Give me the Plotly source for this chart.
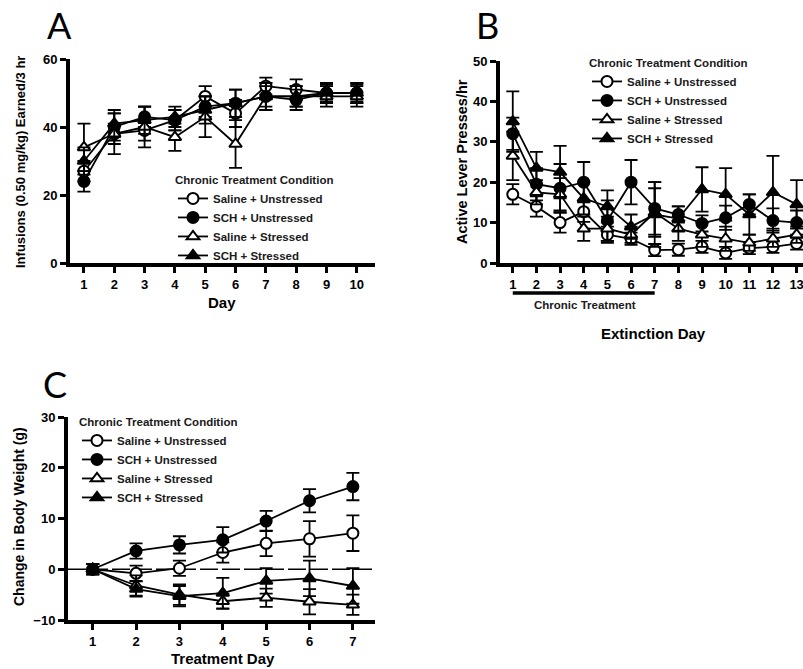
import plotly.graph_objects as go

# ---------------- data ----------------
series_names = ["Saline + Unstressed", "SCH + Unstressed", "Saline + Stressed", "SCH + Stressed"]

# Panel A: infusions earned per 3 hr
days_a = [1, 2, 3, 4, 5, 6, 7, 8, 9, 10]
a_sal_un = [27, 38, 39, 42, 49, 44, 52, 51, 50, 50]
a_sch_un = [24, 40, 43, 42, 46, 47, 49, 48, 50, 50]
a_sal_st = [34, 38, 40, 37, 43, 35, 49, 49, 49, 49]
a_sch_st = [30, 41, 42, 43, 45, 47, 49, 49, 50, 50]
a_err_sal_un = [3, 3, 3, 3, 3, 4, 2.5, 3, 2.5, 2.5]
a_err_sch_un = [3, 4, 3, 3, 3, 4, 3, 3, 3, 3]
a_err_sal_st = [7, 6, 6, 4, 6, 7, 4, 3, 3, 3]
a_err_sch_st = [4, 4, 4, 3, 4, 4, 4, 3, 3, 3]

# Panel B: active lever presses/hr during extinction
days_b = [1, 2, 3, 4, 5, 6, 7, 8, 9, 10, 11, 12, 13]
b_sal_un = [17, 14, 10, 12.7, 7, 6, 3.2, 3.3, 4, 2.5, 3.7, 4, 4.8]
b_sch_un = [32, 19.5, 18.5, 20, 10.5, 20, 13.5, 12, 9.8, 11.2, 14.5, 10.5, 10]
b_sal_st = [26.5, 17.5, 17, 8.5, 8.5, 7, 12.5, 8.5, 7, 6, 5, 6, 7]
b_sch_st = [35, 23.5, 22.5, 16, 14, 9, 12, 11, 18.2, 17, 12, 17.5, 14.5]
b_err_sal_un = [2.5, 2.5, 2.5, 2.5, 2, 1.5, 1.5, 1.5, 1.5, 1.5, 1.5, 1.5, 1.5]
b_err_sch_un = [4, 4, 6, 5, 5, 5.5, 6.5, 2, 2, 3, 2.5, 3, 3]
b_err_sal_st = [6, 3, 4, 3, 3, 2, 6, 3, 3, 3, 2, 2, 2]
b_err_sch_st = [7.5, 4, 6.5, 4, 4, 3, 8, 3, 5.5, 6.5, 5, 9, 6]

# Panel C: change in body weight (g)
days_c = [1, 2, 3, 4, 5, 6, 7]
c_sal_un = [0, -0.8, 0.2, 3.3, 5.1, 6, 7.1]
c_sch_un = [0, 3.6, 4.8, 5.8, 9.5, 13.5, 16.3]
c_sal_st = [0, -3.2, -5, -6.3, -5.6, -6.4, -7]
c_sch_st = [0, -3.9, -5.3, -4.7, -2.3, -1.8, -3.3]
c_err_sal_un = [1, 1.5, 1.5, 2, 2.5, 3.5, 3.5]
c_err_sch_un = [1, 1.5, 1.7, 2.5, 2, 2.3, 2.7]
c_err_sal_st = [1, 2, 2, 1.5, 1.8, 2.5, 2]
c_err_sch_st = [1, 1.5, 2, 3, 2.5, 3.5, 3.5]

legend_title = "Chronic Treatment Condition"

# ---------------- styling ----------------
W, H = 803, 669
FONT = "Arial, Liberation Sans, sans-serif"
symbols = ["circle", "circle", "triangle-up", "triangle-up"]
fills = ["white", "black", "white", "black"]

fig = go.Figure()

def add_panel(days, vals, errs, xaxis, yaxis, legend):
    for name, v, e, sym, fc in zip(series_names, vals, errs, symbols, fills):
        fig.add_trace(go.Scatter(
            x=days, y=v, name=name, mode="lines+markers",
            xaxis=xaxis, yaxis=yaxis, legend=legend,
            line=dict(color="black", width=1.8),
            marker=dict(symbol=sym, size=11, color=fc,
                        line=dict(color="black", width=2)),
            error_y=dict(type="data", array=e, visible=True,
                         color="black", thickness=1.8, width=6.5),
        ))

add_panel(days_a, [a_sal_un, a_sch_un, a_sal_st, a_sch_st],
          [a_err_sal_un, a_err_sch_un, a_err_sal_st, a_err_sch_st], "x", "y", "legend")
add_panel(days_b, [b_sal_un, b_sch_un, b_sal_st, b_sch_st],
          [b_err_sal_un, b_err_sch_un, b_err_sal_st, b_err_sch_st], "x2", "y2", "legend2")
add_panel(days_c, [c_sal_un, c_sch_un, c_sal_st, c_sch_st],
          [c_err_sal_un, c_err_sch_un, c_err_sal_st, c_err_sch_st], "x3", "y3", "legend3")

def px_x(p):
    return p / W

def px_y(p):
    return 1 - p / H

tickfont = dict(family=FONT, size=13, color="black", weight="bold")
axis_common = dict(showline=True, linecolor="black", linewidth=4, ticks="outside",
                   ticklen=6, tickwidth=3, tickcolor="black", showgrid=False,
                   zeroline=False, tickfont=tickfont, fixedrange=True,
                   automargin=False, ticklabeloverflow="allow")

fig.update_layout(
    template="none",
    width=W, height=H, margin=dict(l=0, r=0, t=0, b=0, pad=0, autoexpand=False),
    paper_bgcolor="white", plot_bgcolor="white",
    font=dict(family=FONT, color="black"),
    xaxis=dict(domain=[px_x(70), px_x(375)], range=[0.54, 10.6], tickvals=days_a,
               anchor="y", **axis_common),
    yaxis=dict(domain=[px_y(263), px_y(59)], range=[0, 60], dtick=20,
               anchor="x", **axis_common),
    xaxis2=dict(domain=[px_x(500), px_x(803)], range=[0.46, 13.27], tickvals=days_b,
                anchor="y2", **axis_common),
    yaxis2=dict(domain=[px_y(263), px_y(61)], range=[0, 50], dtick=10,
                anchor="x2", **axis_common),
    xaxis3=dict(domain=[px_x(68), px_x(375)], range=[0.43, 7.51], tickvals=days_c,
                anchor="y3", **axis_common),
    yaxis3=dict(domain=[px_y(620), px_y(417)], range=[-10, 30], dtick=10,
                anchor="x3", **axis_common),
)

legfont = dict(family=FONT, size=11.5, color="#1a1a1a", weight="bold")
leg_common = dict(bgcolor="rgba(0,0,0,0)", font=legfont, xanchor="left", yanchor="top",
                  title=dict(text=legend_title, font=legfont), itemwidth=30,
                  tracegroupgap=0)
fig.update_layout(
    legend=dict(x=px_x(173), y=px_y(169), **leg_common),
    legend2=dict(x=px_x(587), y=px_y(52), **leg_common),
    legend3=dict(x=px_x(77), y=px_y(411), **leg_common),
)

# dashed zero reference line in panel C
fig.add_shape(type="line", xref="x3 domain", yref="y3", x0=0, x1=1, y0=0, y1=0,
              line=dict(color="black", width=1.6, dash="18px,4px"), layer="below")

# chronic treatment bar in panel B
fig.add_shape(type="line", xref="x2", yref="y2 domain", x0=days_b[0], x1=days_b[6],
              y0=-0.149, y1=-0.149, line=dict(color="black", width=3.5))

annots = [
    dict(text="Chronic Treatment", x=4.05, xref="x2", y=-0.208, yref="y2 domain",
         font=dict(size=11.5, weight="bold", color="#1a1a1a")),
    # axis titles
    dict(text="Infusions (0.50 mg/kg) Earned/3 hr", x=px_x(20), y=px_y(162), textangle=-90,
         font=dict(size=13, weight="bold")),
    dict(text="Day", x=px_x(222), y=px_y(302), font=dict(size=15, weight="bold")),
    dict(text="Active Lever Presses/hr", x=px_x(462), y=px_y(162), textangle=-90,
         font=dict(size=14.5, weight="bold")),
    dict(text="Extinction Day", x=px_x(653), y=px_y(333), font=dict(size=15, weight="bold")),
    dict(text="Change in Body Weight (g)", x=px_x(19), y=px_y(517), textangle=-90,
         font=dict(size=14, weight="bold")),
    dict(text="Treatment Day", x=px_x(223), y=px_y(658), font=dict(size=15, weight="bold")),
    # panel letters
    dict(text="A", x=px_x(59), y=px_y(25), font=dict(size=36, family="Lato, Open Sans")),
    dict(text="B", x=px_x(487), y=px_y(25), font=dict(size=36, family="Lato, Open Sans")),
    dict(text="C", x=px_x(55), y=px_y(384), font=dict(size=36, family="Lato, Open Sans")),
]
for a in annots:
    a.setdefault("xref", "paper")
    a.setdefault("yref", "paper")
    a["showarrow"] = False
    a["xanchor"] = "center"
    a["yanchor"] = "middle"
    a["font"].setdefault("family", FONT)
    a["font"].setdefault("color", "black")
    fig.add_annotation(**a)

fig.write_html(
    "out.html",
    config={"displayModeBar": False},
    post_script="document.body.style.margin='0';document.body.style.padding='0';"
                "document.body.style.overflow='hidden';",
)
